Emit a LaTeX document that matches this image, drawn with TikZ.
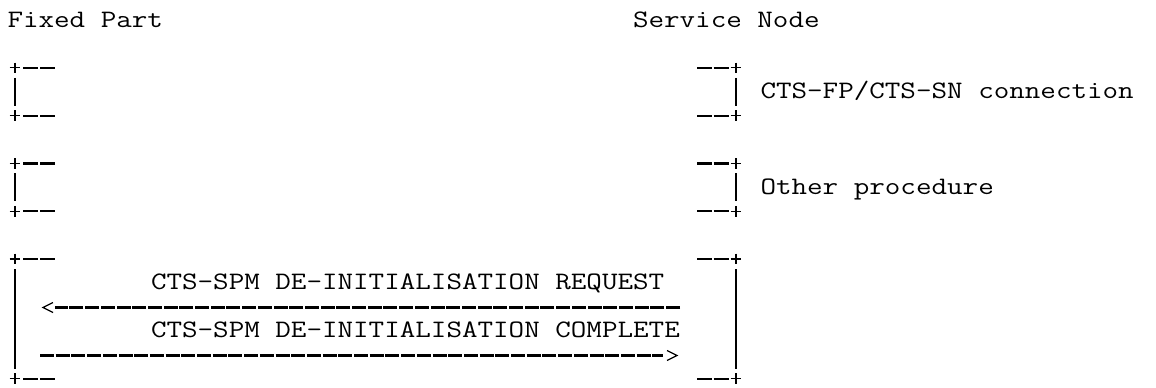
\documentclass[tikz,border=0pt]{standalone}
\usepackage{fontspec}
\usepackage{graphicx}
\usetikzlibrary{calc}
\newcommand\monotxt[1]{\scalebox{1}[0.83]{\ttfamily\fontsize{15.1pt}{18pt}\selectfont #1}}
\begin{document}
\begin{tikzpicture}[x=0.5pt,y=-0.5pt,
  lbl/.style={inner sep=0pt, outer sep=0pt, anchor=base west},
  thinline/.style={line width=0.65pt},
  dashseg/.style={line width=1.1pt},
  msg/.style={line width=1.1pt, dash pattern=on 7pt off 0.85pt},
  chev/.style={line width=0.65pt, line join=miter}]
  \fill[white] (0,0) rectangle (1156,387);
  \useasboundingbox (0,0) rectangle (1156,387);

  % headings
  \node[lbl] (fp) at (7.5,27) {\monotxt{Fixed Part}};
  \node[lbl] (sn) at (633,27) {\monotxt{Service Node}};

  % bracket boxes
  \foreach \t/\b in {67.8/115.6, 163.4/211.2, 259/378.6} {
    \foreach \y in {\t,\b} {
      % left plus and dashes
      \draw[thinline] (9.7,\y) -- (20.3,\y) (15,{\y-5.3}) -- (15,{\y+5.3});
      \draw[dashseg] (23.3,\y) -- (38.3,\y) (40,\y) -- (55,\y);
      % right plus and dashes
      \draw[thinline] (730.7,\y) -- (741.3,\y) (736,{\y-5.3}) -- (736,{\y+5.3});
      \draw[dashseg] (697,\y) -- (712,\y) (713.7,\y) -- (728.7,\y);
    }
    \draw[thinline] (15,{\t+10}) -- (15,{\b-10});
    \draw[thinline] (736,{\t+10}) -- (736,{\b-10});
  }

  % procedure labels
  \node[lbl] (conn) at (760.5,98.7) {\monotxt{CTS-FP/CTS-SN connection}};
  \node[lbl] (other) at (760.5,194.3) {\monotxt{Other procedure}};

  % messages
  \node[lbl] (req) at (151,289.9) {\monotxt{CTS-SPM DE-INITIALISATION REQUEST}};
  \node[lbl] (cmp) at (151,337.7) {\monotxt{CTS-SPM DE-INITIALISATION COMPLETE}};

  \coordinate (reqR) at (680,307.5);
  \coordinate (reqL) at (55,307.5);
  \coordinate (reqTip) at (43,307.5);
  \draw[msg] (reqR) -- (reqL);
  \draw[chev] ($(reqTip)+(10,-5)$) -- (reqTip) -- ($(reqTip)+(10,5)$);

  \coordinate (cmpL) at (40,355.5);
  \coordinate (cmpR) at (663,355.5);
  \coordinate (cmpTip) at (677,355.5);
  \draw[msg] (cmpL) -- (cmpR);
  \draw[chev] ($(cmpTip)+(-10,-5)$) -- (cmpTip) -- ($(cmpTip)+(-10,5)$);
\end{tikzpicture}
\end{document}
